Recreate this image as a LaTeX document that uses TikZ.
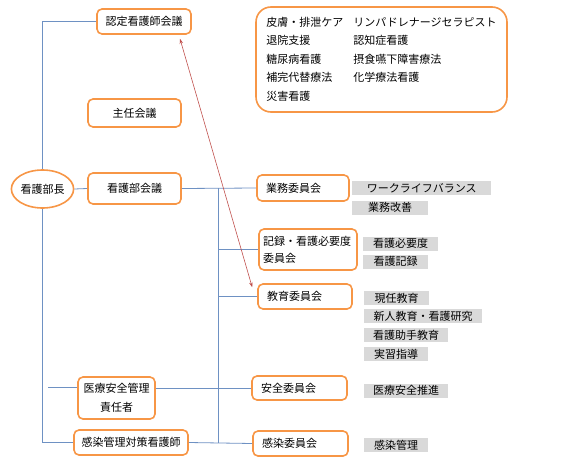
\documentclass[tikz,border=0pt]{standalone}
\usepackage{fontspec}
\setmainfont{Noto Sans CJK JP}
\usepackage{tikz}
\usepackage{xcolor}
\usetikzlibrary{arrows.meta, positioning, shapes.geometric}
\definecolor{boxorange}{RGB}{247,150,70}
\definecolor{linkblue}{RGB}{110,145,195}
\definecolor{linkred}{RGB}{192,80,77}
\definecolor{taggrey}{RGB}{217,217,217}
\newcommand{\jfs}{\fontsize{11pt}{13.6pt}\selectfont}

\begin{document}
\begin{tikzpicture}[x=1pt, y=-1pt,
    box/.style={rectangle, draw=boxorange, line width=1.6pt,
                rounded corners=5pt, fill=white, font=\jfs,
                align=center, inner sep=0pt},
    chief/.style={ellipse, draw=boxorange, line width=1.6pt,
                  fill=white, font=\jfs, inner sep=0pt,
                  minimum width=55pt, minimum height=38pt},
    iinkai/.style={box, align=left, inner xsep=9pt,
                   text width=77pt, minimum height=25pt},
    tag/.style={rectangle, fill=taggrey, font=\jfs, anchor=west,
                inner sep=0pt, minimum height=14pt},
    link/.style={draw=linkblue, line width=0.8pt},
    arr/.style={<->, >={Stealth[length=5pt, width=3.5pt]},
                draw=linkred, line width=0.6pt}
]
    \useasboundingbox (0,0) rectangle (580,471);

    \node[chief] (bucho) at (42.5,189) {看護部長};
    \node[box, minimum width=94pt, minimum height=25pt] (nintei)
        at (144,21.5) {認定看護師会議};
    \node[box, minimum width=93pt, minimum height=28pt] (shunin)
        at (134.5,113) {主任会議};
    \node[box, minimum width=93pt, minimum height=31pt] (bukai)
        at (134.5,188.5) {看護部会議};
    \node[box, minimum width=77pt, minimum height=42pt,
          font=\fontsize{11pt}{19pt}\selectfont] (iryoanzen)
        at (116.5,398) {医療安全管理\\責任者};
    \node[box, minimum width=114pt, minimum height=25pt] (kansenkanri)
        at (131,442.5) {感染管理対策看護師};

    \node[box, rounded corners=15pt, minimum width=251pt,
          minimum height=105pt] (ninteilist) at (381.5,59.5)
        {\renewcommand{\arraystretch}{1.36}%
         \begin{tabular}{@{}p{87pt}@{}l@{}}
         皮膚・排泄ケア & リンパドレナージセラピスト\\
         退院支援 & 認知症看護\\
         糖尿病看護 & 摂食嚥下障害療法\\
         補完代替療法 & 化学療法看護\\
         災害看護 & \\
         \end{tabular}};

    \node[iinkai, text width=74pt, minimum height=26pt] (gyomu)
        at (303,188) {業務委員会};
    \node[iinkai, inner xsep=4pt, text width=90pt, minimum height=41pt,
          font=\fontsize{11pt}{17pt}\selectfont] (kiroku)
        at (308,249.5) {記録・看護必要度\\委員会};
    \node[iinkai, text width=76pt] (kyoiku) at (305,296.5) {教育委員会};
    \node[iinkai, minimum height=24pt] (anzen) at (299.5,388) {安全委員会};
    \node[iinkai] (kansen) at (300.5,443.5) {感染委員会};

    \node[tag, minimum width=139pt] (wlb) at (352,188) {ワークライフバランス};
    \node[tag, minimum width=76pt] (kaizen) at (352,207.5) {業務改善};
    \node[tag, minimum width=75pt] (hitsuyodo) at (363,243.5) {看護必要度};
    \node[tag, minimum width=65pt] (kangokiroku) at (363,261.5) {看護記録};
    \node[tag, minimum width=65pt] (genin) at (364,298) {現任教育};
    \node[tag, minimum width=118pt] (shinjin) at (364,316) {新人教育・看護研究};
    \node[tag, minimum width=84pt] (joshu) at (364,335) {看護助手教育};
    \node[tag, minimum width=64pt] (jisshu) at (364,354) {実習指導};
    \node[tag, minimum width=84pt] (suishin) at (364,390.5) {医療安全推進};
    \node[tag, minimum width=64pt] (kanri) at (364,445) {感染管理};

    \coordinate (trunktop) at (218,188);
    \coordinate (trunkbot) at (218,443);
    \coordinate (iryostub) at (48,387);

    \draw[link] (nintei.west) -| (bucho.north);
    \draw[link] (bucho.south) |- (kansenkanri.west);
    \draw[link] (bucho.east) -- (bukai.west);
    \draw[link] (bukai.east) -- (gyomu.west);
    \draw[link] (trunktop) -- (trunkbot);
    \draw[link] (trunktop |- kiroku.west) -- (kiroku.west);
    \draw[link] (trunktop |- kyoiku.west) -- (kyoiku.west);
    \draw[link] (iryostub) -- (iryostub -| iryoanzen.west);
    \draw[link] (iryoanzen.east |- anzen.west) -- (anzen.west);
    \draw[link] (kansenkanri.east) -- (kansen.west);

    \draw[arr] ([xshift=36pt, yshift=-4pt]nintei.south) --
        ([xshift=-5pt, yshift=-4pt]kyoiku.north west);
\end{tikzpicture}
\end{document}
